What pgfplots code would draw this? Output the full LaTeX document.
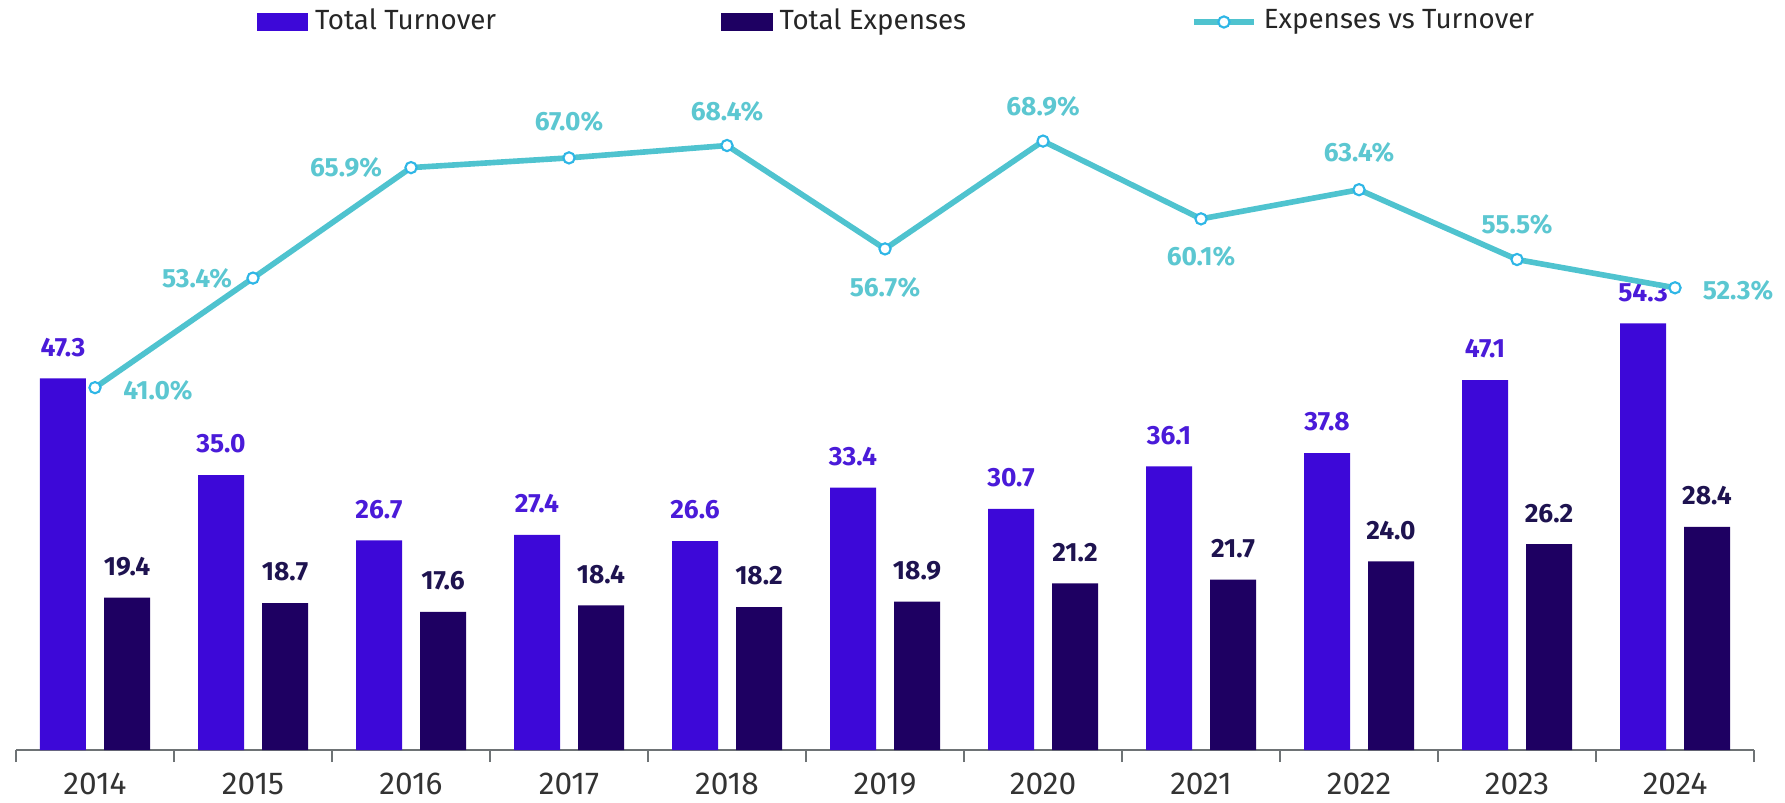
\documentclass[border=0pt]{standalone}
\usepackage{fontspec}
\setmainfont{Fira Sans}
\usepackage{pgfplots}
\pgfplotsset{compat=1.18}
\usepackage{pgfplotstable}
\definecolor{cturn}{HTML}{3D08D8}
\definecolor{cexpn}{HTML}{1E0062}
\definecolor{linec}{HTML}{4FC3CF}
\definecolor{mk}{HTML}{2EB6E6}
\definecolor{turnlab}{HTML}{4A1BD9}
\definecolor{expnlab}{HTML}{1E1350}
\definecolor{pctlab}{HTML}{5CC7D1}
\definecolor{axisgray}{HTML}{6E7375}
\definecolor{ticklab}{HTML}{333333}

\pgfplotstableread{
x turn exp
0 47.3 19.4
1 35.0 18.7
2 26.7 17.6
3 27.4 18.4
4 26.6 18.2
5 33.4 18.9
6 30.7 21.2
7 36.1 21.7
8 37.8 24.0
9 47.1 26.2
10 54.3 28.4
}\bars

\pgfplotstableread{
x pct dx dy
0 41.0 0.63 -0.03
1 53.4 -0.56 0
2 65.9 -0.65 0
3 67.0 0 0.36
4 68.4 0 0.34
5 56.7 0 -0.39
6 68.9 0 0.35
7 60.1 0 -0.38
8 63.4 0 0.37
9 55.5 0 0.35
10 52.3 0.63 -0.03
}\pct

\pgfplotsset{base/.style={scale only axis, width=17.38cm, height=7.07cm,
  xmin=-0.5, xmax=10.5, ymin=0, at={(0,0)}, anchor=south west, clip=false}}

\begin{document}
\begin{tikzpicture}
\begin{axis}[base, ymax=90,
  axis y line=none, axis x line*=bottom, ytick=\empty,
  x axis line style={-, draw=axisgray, line width=0.6pt},
  xtick={0,...,10},
  xticklabels={2014,2015,2016,2017,2018,2019,2020,2021,2022,2023,2024},
  major tick length=0pt,
  minor xtick={-0.5,0.5,...,10.5},
  minor tick length=0.12cm, tick align=outside,
  minor tick style={draw=axisgray, line width=0.6pt},
  xticklabel style={font=\fontsize{9}{10}\selectfont, text=ticklab, yshift=-0.11cm},
  ybar, bar width=0.46cm,
  nodes near coords={\pgfmathprintnumber[fixed,fixed zerofill,precision=1,assume math mode=true]{\pgfplotspointmeta}},
  every node near coord/.append style={font=\fontsize{7.5}{9}\selectfont\bfseries, anchor=center, yshift=0.31cm},
]
\addplot[fill=cturn, draw=none, bar shift=-0.32cm,
  every node near coord/.append style={text=turnlab}] table[x=x,y=turn]{\bars};
\addplot[fill=cexpn, draw=none, bar shift=0.32cm,
  every node near coord/.append style={text=expnlab}] table[x=x,y=exp]{\bars};
\end{axis}

\begin{axis}[base, ymax=80, hide axis,
  legend columns=3,
  legend style={draw=none, fill=none, at={(rel axis cs:0.508,1)}, anchor=center,
    yshift=0.21cm, font=\fontsize{7.9}{8}\selectfont, text=black!85,
    /tikz/every even column/.append style={column sep=2.18cm}},
]
\addlegendimage{legend image code/.code={\fill[cturn] (0cm,-0.08cm) rectangle (0.5cm,0.08cm);}}
\addlegendentry{Total Turnover}
\addlegendimage{legend image code/.code={\fill[cexpn] (0cm,-0.08cm) rectangle (0.5cm,0.08cm);}}
\addlegendentry{Total Expenses}
\addplot[color=linec, line width=1.6pt, mark=*, mark size=1.6pt,
  mark options={fill=white, draw=mk, line width=0.6pt},
  point meta=explicit,
  visualization depends on={\thisrow{dx}\as\dx},
  visualization depends on={\thisrow{dy}\as\dy},
  nodes near coords={\pgfmathprintnumber[fixed,fixed zerofill,precision=1,assume math mode=true]{\pgfplotspointmeta}\%},
  every node near coord/.append style={anchor=center, xshift=\dx cm, yshift=\dy cm,
    text=pctlab, font=\fontsize{7.5}{9}\selectfont\bfseries},
] table[x=x, y=pct, meta=pct]{\pct};
\addlegendentry{Expenses vs Turnover}
\end{axis}
\pgfresetboundingbox
\path[use as bounding box] (-0.16cm,-0.52cm) rectangle (17.69cm,7.50cm);
\end{tikzpicture}
\end{document}
